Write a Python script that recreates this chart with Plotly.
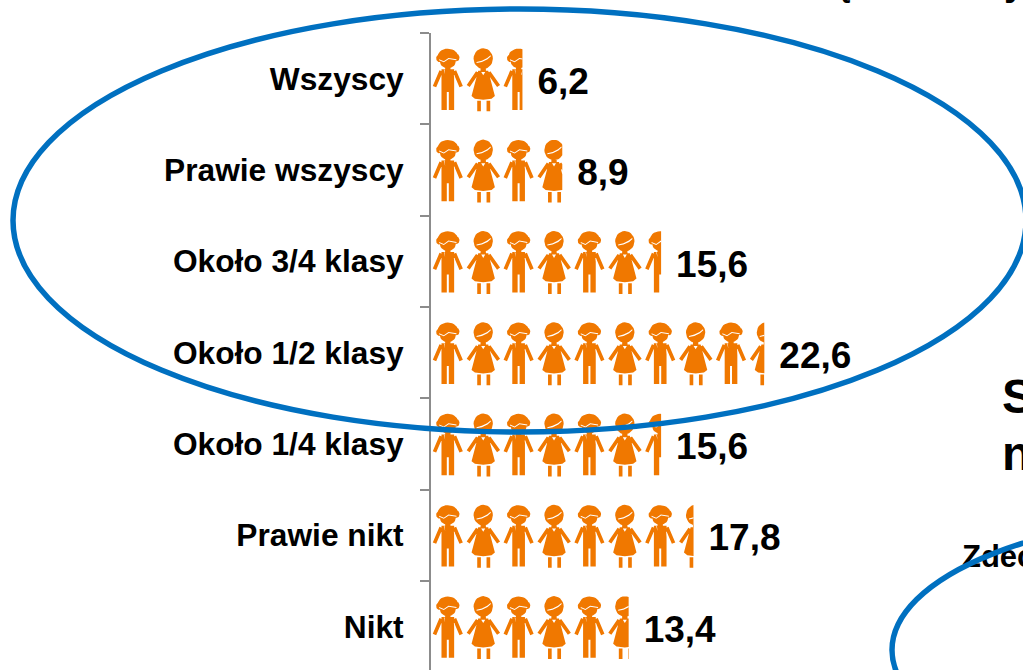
import math
import plotly.graph_objects as go

categories = ["Wszyscy", "Prawie wszyscy", "Około 3/4 klasy", "Około 1/2 klasy",
              "Około 1/4 klasy", "Prawie nikt", "Nikt"]
values = [6.2, 8.9, 15.6, 22.6, 15.6, 17.8, 13.4]
cropped_texts = ["S", "n", "Zdec"]

W, H = 1023, 670
ML, MT = 431, 33
PX_PER_X = 14.75
PX_PER_Y = 91.3
X_MAX = (W - ML) / PX_PER_X
Y_MAX = (H - MT) / PX_PER_Y - 0.5
ICON_STEP = 2.4
ICON_START = 1.14
ORANGE = "#F07800"
BLUE = "#0070C0"
GRAY = "#8C8C8C"
FONT = "Liberation Sans"


def rect(x0, y0, x1, y1):
    return [(x0, y0), (x1, y0), (x1, y1), (x0, y1)]


def ell(cx, cy, rx, ry, n=28):
    return [(cx + rx * math.cos(2 * math.pi * k / n), cy + ry * math.sin(2 * math.pi * k / n)) for k in range(n)]


def thick(a, b, w):
    dx_, dy_ = b[0] - a[0], b[1] - a[1]
    d = math.hypot(dx_, dy_)
    nx, ny = -dy_ / d * w / 2, dx_ / d * w / 2
    return [(a[0] + nx, a[1] + ny), (b[0] + nx, b[1] + ny), (b[0] - nx, b[1] - ny), (a[0] - nx, a[1] - ny)]


BOY = [ell(0, -68, 30, 22), ell(-26, -61, 9, 11), ell(27, -63, 8, 11), ell(0, -52, 24, 21),
       rect(-8, -36, 8, -24), rect(-19, -28, 19, 40), rect(-19, 38, -3, 94), rect(3, 38, 19, 94),
       thick((-20, -23), (-40, 24), 11), thick((20, -23), (40, 24), 11)]
BOY_W = [[(-26, -58), (-12, -52), (2, -62), (26, -58), (26, -55), (3, -59), (-12, -49), (-26, -55)],
         thick((-11, -27), (-9, -12), 2), thick((11, -27), (9, -12), 2),
         thick((-19, -10), (-20, 10), 2), thick((19, -10), (20, 10), 2)]
GIRL = [ell(0, -60, 29, 31), rect(-8, -36, 8, -20),
        [(-15, -24), (15, -24), (35, 52), (25, 60), (0, 63), (-25, 60), (-35, 52)],
        rect(-18, 66, -7, 98), rect(10, 66, 21, 98),
        thick((-17, -19), (-45, 22), 11), thick((17, -19), (46, 22), 11)]
GIRL_W = [[(-20, -50), (-4, -54), (12, -62), (22, -70), (23, -67), (13, -58), (-4, -50), (-20, -47)],
          [(-6, -20), (6, -20), (0, -10)]]


def clip(poly, xmax):
    out = []
    for i, p in enumerate(poly):
        q = poly[(i + 1) % len(poly)]
        pin, qin = p[0] <= xmax, q[0] <= xmax
        if pin:
            out.append(p)
        if pin != qin:
            t = (xmax - p[0]) / (q[0] - p[0])
            out.append((xmax, p[1] + t * (q[1] - p[1])))
    return out


def ccw(poly):
    area = sum(poly[i][0] * poly[(i + 1) % len(poly)][1] - poly[(i + 1) % len(poly)][0] * poly[i][1]
               for i in range(len(poly)))
    return poly if area > 0 else poly[::-1]


def row_polys(row, value, template_pair):
    xs, ys = [], []
    k = 0
    while True:
        cx = ICON_START + k * ICON_STEP
        if cx - 46 / 3 / PX_PER_X >= value:
            break
        for poly in template_pair[k % 2]:
            data = [(cx + px / 3 / PX_PER_X, row + py / 3 / PX_PER_Y) for px, py in poly]
            data = clip(data, value)
            if len(data) >= 3:
                data = ccw(data)
                xs += [p[0] for p in data] + [data[0][0], None]
                ys += [p[1] for p in data] + [data[0][1], None]
        k += 1
    return xs, ys


fig = go.Figure()
for r, v in enumerate(values):
    xs, ys = row_polys(r, v, (BOY, GIRL))
    fig.add_trace(go.Scatter(x=xs, y=ys, mode="lines", fill="toself", fillcolor=ORANGE,
                             line=dict(width=0, color=ORANGE), hoverinfo="skip", showlegend=False))
    xs, ys = row_polys(r, v, (BOY_W, GIRL_W))
    fig.add_trace(go.Scatter(x=xs, y=ys, mode="lines", fill="toself", fillcolor="white",
                             line=dict(width=0, color="white"), hoverinfo="skip", showlegend=False))

# value labels
fig.add_trace(go.Scatter(
    x=[v + 15 / PX_PER_X for v in values], y=[i + 6 / PX_PER_Y for i in range(len(values))], mode="text",
    text=[f"{v:.1f}".replace(".", ",") for v in values], textposition="middle right",
    textfont=dict(family=FONT, size=37, color="black", weight="bold"),
    cliponaxis=False, hoverinfo="skip", showlegend=False))


def dx(px):
    return (px - ML) / PX_PER_X


def dy(py):
    return (py - MT) / PX_PER_Y - 0.5


def px_(px):
    return (px - ML) / (W - ML)


def py_(py):
    return 1 - (py - MT) / (H - MT)


# text that is cropped at the right edge of the picture
fig.add_trace(go.Scatter(
    x=[dx(1002), dx(1002)], y=[dy(401), dy(458)], mode="text", text=cropped_texts[:2],
    textposition="middle right", textfont=dict(family=FONT, size=48, color="black", weight="bold"),
    cliponaxis=False, hoverinfo="skip", showlegend=False))
fig.add_trace(go.Scatter(
    x=[dx(962)], y=[dy(559)], mode="text", text=cropped_texts[2:],
    textposition="middle right", textfont=dict(family=FONT, size=31, color="black", weight="bold"),
    cliponaxis=False, hoverinfo="skip", showlegend=False))

fig.update_layout(
    width=W, height=H, autosize=False, plot_bgcolor="white", paper_bgcolor="white",
    margin=dict(l=ML, r=0, t=MT, b=0, pad=0), showlegend=False,
    xaxis=dict(range=[0, X_MAX], visible=False, fixedrange=True),
    yaxis=dict(range=[Y_MAX, -0.5], tickmode="array", tickvals=list(range(len(categories))),
               ticktext=categories, ticks="", showgrid=False, zeroline=False,
               showline=True, linecolor=GRAY, linewidth=2, fixedrange=True,
               ticklabelstandoff=19,
               tickfont=dict(family=FONT, size=31.7, color="black", weight="bold"),
               minor=dict(tickmode="array", tickvals=[i - 0.5 for i in range(len(categories) + 1)],
                          ticks="outside", ticklen=9, tickwidth=2, tickcolor=GRAY, showgrid=False)),
    shapes=[
        dict(type="circle", xref="paper", yref="paper", x0=px_(13), x1=px_(1026), y0=py_(9), y1=py_(432),
             line=dict(color=BLUE, width=5.5), layer="above"),
        dict(type="circle", xref="paper", yref="paper", x0=px_(892), x1=px_(1592), y0=py_(513), y1=py_(787),
             line=dict(color=BLUE, width=5.5), layer="above"),
    ],
    annotations=[
        dict(text="ą", x=px_(828), y=py_(-18), xref="paper", yref="paper", xanchor="left", yanchor="middle",
             showarrow=False, font=dict(family=FONT, size=38, color="black", weight="bold")),
        dict(text="y", x=px_(1002), y=py_(-18), xref="paper", yref="paper", xanchor="left", yanchor="middle",
             showarrow=False, font=dict(family=FONT, size=38, color="black", weight="bold")),
    ],
)
fig.write_html("out.html", config={"displayModeBar": False},
               post_script="document.documentElement.style.overflow='hidden';document.body.style.margin='0';")
